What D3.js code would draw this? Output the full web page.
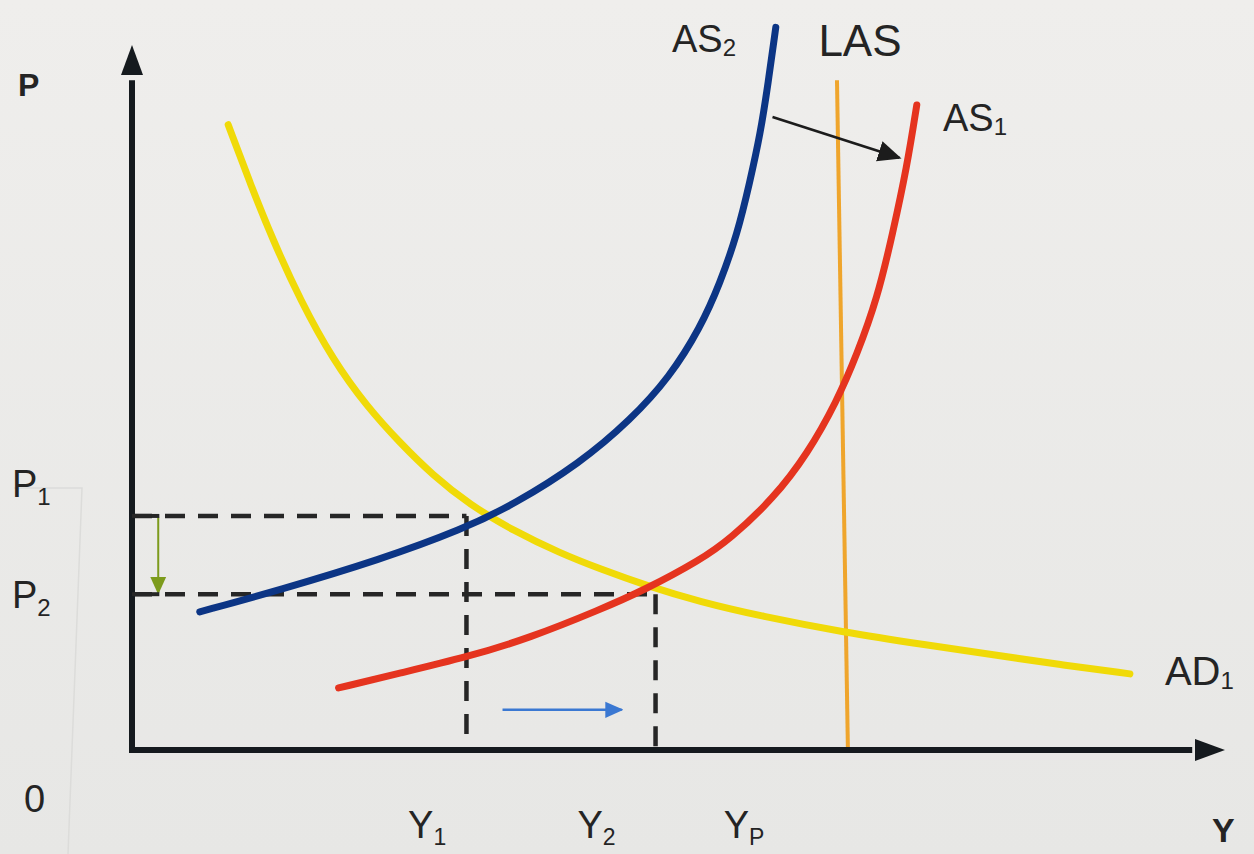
<!DOCTYPE html>
<html>
<head>
<meta charset="utf-8">
<script src="https://cdn.jsdelivr.net/npm/d3@7"></script>
<style>
  html, body { margin: 0; padding: 0; background: #ebebe9; }
  svg { display: block; }
  text { font-family: "Liberation Sans", Arial, sans-serif; fill: #242424; }
</style>
</head>
<body>
<div id="chart"></div>
<script>
// Curves, in output (Y) / price level (P) units, 0-100
const adCurve = [[8.8, 88.7], [10.8, 80.4], [12.9, 72.3], [15.4, 63.8], [18.4, 55.3],
  [21.5, 48.7], [24.5, 43.6], [27.5, 39.0], [30.9, 34.8], [34.9, 31.1], [39.2, 27.9],
  [42.8, 25.7], [47.1, 23.3], [52.0, 21.0], [57.5, 19.0], [65.1, 16.7], [72.7, 14.9],
  [78.8, 13.5], [84.9, 12.1], [91.3, 10.8]];
const as2Curve = [[6.2, 19.6], [13.5, 22.7], [22.7, 27.0], [30.3, 31.35], [34.9, 34.8],
  [41.0, 40.7], [45.6, 46.8], [49.2, 52.9], [52.0, 59.9], [53.8, 66.2], [55.4, 73.3],
  [56.5, 80.4], [57.5, 87.5], [58.2, 94.6], [58.9, 102.5]];
const as1Curve = [[18.9, 8.8], [24.5, 10.9], [30.7, 13.2], [36.4, 15.9], [42.8, 19.9],
  [46.9, 22.7], [52.0, 26.95], [54.7, 29.9], [58.7, 35.7], [61.8, 42.0], [64.5, 49.5],
  [66.3, 56.0], [68.2, 64.1], [69.6, 73.3], [70.9, 82.7], [71.8, 91.5]];
const lasLine = [[64.5, 95.0], [65.5, 0]];

// Equilibrium levels
const priceLevels = { P1: 33.2, P2: 22.1 };
const outputLevels = { Y1: 30.6, Y2: 47.9 };

// Tick labels (text, position on axis)
const xTickLabels = [
  { main: 'Y', sub: '1', at: 27.0 },
  { main: 'Y', sub: '2', at: 42.5 },
  { main: 'Y', sub: 'P', at: 56.0 }
];
const yTickLabels = [
  { main: 'P', sub: '1', at: 37.0 },
  { main: 'P', sub: '2', at: 21.3 }
];

// Curve labels
const curveLabels = [
  { main: 'AS', sub: '2', x: 49.4, y: 99.0, size: 38 },
  { main: 'LAS', sub: '', x: 62.8, y: 98.4, size: 44 },
  { main: 'AS', sub: '1', x: 74.2, y: 87.8, size: 38 },
  { main: 'AD', sub: '1', x: 94.5, y: 9.2, size: 40 }
];

// Shift arrows
const shiftArrows = [
  { from: [58.6, 89.8], to: [70.2, 84.0], color: '#1c1c1c', w: 2.6, head: 9 },
  { from: [33.9, 5.7], to: [44.8, 5.7], color: '#3a78d2', w: 2.6, head: 7 },
  { from: [2.4, 33.0], to: [2.4, 22.3], color: '#7d9b1c', w: 2, head: 9 }
];

const width = 1254, height = 854;
const origin = { x: 132, y: 750 };

const x = d3.scaleLinear().domain([0, 100]).range([origin.x, 1225]);
const y = d3.scaleLinear().domain([0, 100]).range([origin.y, 45]);

const svg = d3.select('#chart').append('svg')
  .attr('width', width)
  .attr('height', height);

const bg = svg.append('defs').append('linearGradient')
  .attr('id', 'paper').attr('x1', 0).attr('y1', 0).attr('x2', 0).attr('y2', 1);
bg.append('stop').attr('offset', 0).attr('stop-color', '#efeeec');
bg.append('stop').attr('offset', 1).attr('stop-color', '#e7e7e5');
svg.append('rect')
  .attr('width', width).attr('height', height)
  .attr('fill', 'url(#paper)');

// faint paper edge at the left
svg.append('path')
  .attr('d', 'M14,488 L82,488 L68,854')
  .attr('fill', 'none')
  .attr('stroke', '#dcdcda')
  .attr('stroke-width', 1.5);

const defs = svg.append('defs');
shiftArrows.forEach((a, i) => {
  defs.append('marker')
    .attr('id', 'head' + i)
    .attr('viewBox', '0 0 10 10')
    .attr('refX', 9).attr('refY', 5)
    .attr('markerWidth', a.head).attr('markerHeight', a.head)
    .attr('markerUnits', 'strokeWidth')
    .attr('orient', 'auto')
    .append('path')
    .attr('d', 'M0,0.5 L10,5 L0,9.5 Z')
    .attr('fill', a.color);
});

// dashed guides
const g = svg.append('g');
const guides = [
  [[0, priceLevels.P1], [outputLevels.Y1, priceLevels.P1]],
  [[0, priceLevels.P2], [outputLevels.Y2, priceLevels.P2]],
  [[outputLevels.Y1, priceLevels.P1], [outputLevels.Y1, 0]],
  [[outputLevels.Y2, priceLevels.P2], [outputLevels.Y2, 0]]
];
g.selectAll('.guide')
  .data(guides)
  .enter()
  .append('line')
  .attr('class', 'guide')
  .attr('x1', d => x(d[0][0])).attr('y1', d => y(d[0][1]))
  .attr('x2', d => x(d[1][0])).attr('y2', d => y(d[1][1]))
  .attr('stroke', '#262626')
  .attr('stroke-width', 4.5)
  .attr('stroke-dasharray', '20,13');

const line = d3.line()
  .x(d => x(d[0]))
  .y(d => y(d[1]))
  .curve(d3.curveBasis);

// LAS first, curves over it
g.append('path')
  .attr('d', d3.line().x(d => x(d[0])).y(d => y(d[1]))(lasLine))
  .attr('fill', 'none')
  .attr('stroke', '#efa52c')
  .attr('stroke-width', 4);

const curves = [
  { pts: adCurve, color: '#f0da08' },
  { pts: as1Curve, color: '#e5341f' },
  { pts: as2Curve, color: '#0c3585' }
];
g.selectAll('.curve')
  .data(curves)
  .enter()
  .append('path')
  .attr('class', 'curve')
  .attr('d', d => line(d.pts))
  .attr('fill', 'none')
  .attr('stroke', d => d.color)
  .attr('stroke-width', 7)
  .attr('stroke-linecap', 'round');

// axes with arrowheads
const axisColor = '#151a1e';
svg.append('line')
  .attr('x1', x(0)).attr('y1', y(0))
  .attr('x2', x(0)).attr('y2', y(95))
  .attr('stroke', axisColor).attr('stroke-width', 6);
svg.append('line')
  .attr('x1', x(0) - 3).attr('y1', y(0))
  .attr('x2', x(97)).attr('y2', y(0))
  .attr('stroke', axisColor).attr('stroke-width', 6);
svg.append('path')
  .attr('d', `M${x(0)},${y(100)} L${x(0) - 11},${y(100) + 30} L${x(0) + 11},${y(100) + 30} Z`)
  .attr('fill', axisColor);
svg.append('path')
  .attr('d', `M${x(100)},${y(0)} L${x(100) - 30},${y(0) - 11} L${x(100) - 30},${y(0) + 11} Z`)
  .attr('fill', axisColor);

// shift arrows
svg.selectAll('.shift')
  .data(shiftArrows)
  .enter()
  .append('line')
  .attr('class', 'shift')
  .attr('x1', d => x(d.from[0])).attr('y1', d => y(d.from[1]))
  .attr('x2', d => x(d.to[0])).attr('y2', d => y(d.to[1]))
  .attr('stroke', d => d.color)
  .attr('stroke-width', d => d.w)
  .attr('marker-end', (d, i) => `url(#head${i})`);

// small bracket ticks for the green arrow
svg.selectAll('.bracket')
  .data([priceLevels.P1, priceLevels.P2])
  .enter()
  .append('line')
  .attr('x1', x(0)).attr('x2', x(2.5))
  .attr('y1', d => y(d)).attr('y2', d => y(d))
  .attr('stroke', '#262626').attr('stroke-width', 4);

function subLabel(sel, d, subSize, subDy) {
  sel.append('tspan').text(d.main);
  if (d.sub) {
    sel.append('tspan')
      .attr('font-size', subSize)
      .attr('dy', subDy)
      .text(d.sub);
  }
}

// axis tick labels
svg.selectAll('.xtick')
  .data(xTickLabels)
  .enter()
  .append('text')
  .attr('class', 'xtick')
  .attr('x', d => x(d.at))
  .attr('y', 838)
  .attr('font-size', 38)
  .attr('text-anchor', 'middle')
  .each(function (d) { subLabel(d3.select(this), d, 23, 7); });

svg.selectAll('.ytick')
  .data(yTickLabels)
  .enter()
  .append('text')
  .attr('class', 'ytick')
  .attr('x', 12)
  .attr('y', d => y(d.at) + 8)
  .attr('font-size', 38)
  .each(function (d) { subLabel(d3.select(this), d, 24, 8); });

svg.append('text')
  .attr('x', 24).attr('y', 812)
  .attr('font-size', 38)
  .text('0');

svg.append('text')
  .attr('x', 18).attr('y', 96)
  .attr('font-size', 32).attr('font-weight', 'bold')
  .text('P');

svg.append('text')
  .attr('x', 1212).attr('y', 842)
  .attr('font-size', 34).attr('font-weight', 'bold')
  .text('Y');

// curve labels
svg.selectAll('.clabel')
  .data(curveLabels)
  .enter()
  .append('text')
  .attr('class', 'clabel')
  .attr('x', d => x(d.x))
  .attr('y', d => y(d.y))
  .attr('font-size', d => d.size)
  .each(function (d) { subLabel(d3.select(this), d, 24, 4); });
</script>
</body>
</html>
